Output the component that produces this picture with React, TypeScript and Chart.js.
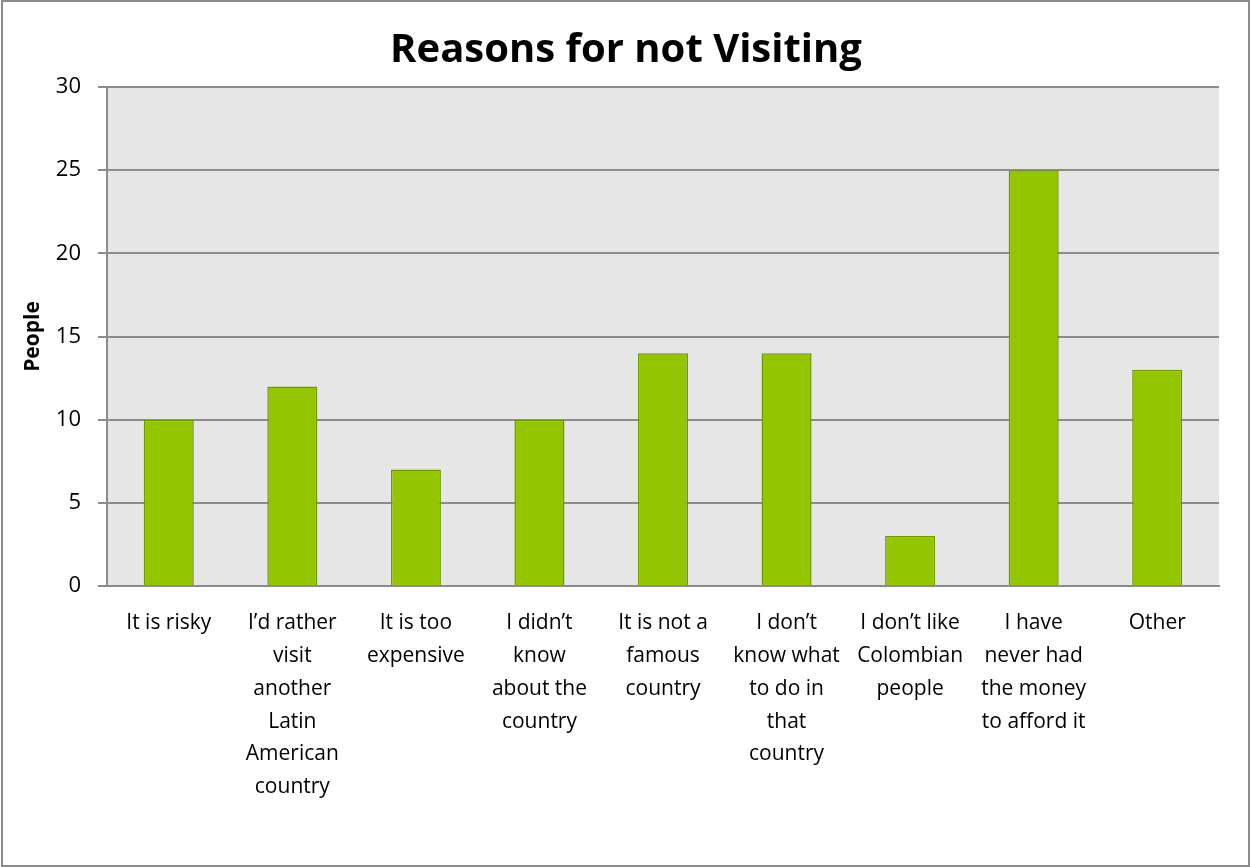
import React, { useEffect, useRef } from "react";
import { Chart, registerables } from "chart.js";

Chart.register(...registerables);

const categories: (string | string[])[] = [
  "It is risky",
  ["I\u2019d rather", "visit", "another", "Latin", "American", "country"],
  ["It is too", "expensive"],
  ["I didn\u2019t", "know", "about the", "country"],
  ["It is not a", "famous", "country"],
  ["I don\u2019t", "know what", "to do in", "that", "country"],
  ["I don\u2019t like", "Colombian", "people"],
  ["I have", "never had", "the money", "to afford it"],
  "Other",
];
const peopleValues: number[] = [10, 12, 7, 10, 14, 14, 3, 25, 13];
const chartTitle = "Reasons for not Visiting";
const yAxisTitle = "People";
const yMin = 0;
const yMax = 30;
const yStep = 5;

const FONT = "'Open Sans', Lato, sans-serif";

const decorPlugin = {
  id: "decor",
  beforeDraw(chart: any) {
    const { ctx, chartArea, width, height } = chart;
    ctx.save();
    ctx.fillStyle = "#ffffff";
    ctx.fillRect(0, 0, width, height);
    ctx.fillStyle = "#e6e6e6";
    ctx.fillRect(
      chartArea.left,
      chartArea.top,
      chartArea.right - chartArea.left,
      chartArea.bottom - chartArea.top
    );
    ctx.restore();
  },
  afterDraw(chart: any) {
    const { ctx, width } = chart;
    ctx.save();
    ctx.fillStyle = "#000000";
    ctx.font = `bold 40px ${FONT}`;
    ctx.textAlign = "center";
    ctx.textBaseline = "alphabetic";
    ctx.fillText(chartTitle, width / 2 + 1, 62);
    ctx.strokeStyle = "#8c8c8c";
    ctx.lineWidth = 2;
    ctx.strokeRect(2, 1, 1247, 865);
    ctx.restore();
  },
};

export default function App() {
  const canvasRef = useRef<HTMLCanvasElement | null>(null);

  useEffect(() => {
    document.body.style.margin = "0";
    const canvas = canvasRef.current;
    if (!canvas) return;
    const chart = new Chart(canvas, {
      type: "bar",
      data: {
        labels: categories,
        datasets: [
          {
            label: yAxisTitle,
            data: peopleValues,
            backgroundColor: "#93c500",
            borderColor: "#6e9a00",
            borderWidth: 1.5,
            categoryPercentage: 1,
            barPercentage: 0.405,
          },
        ],
      },
      options: {
        responsive: false,
        animation: false,
        layout: { padding: { top: 87, right: 31, bottom: 0, left: 0 } },
        plugins: {
          legend: { display: false },
          title: { display: false },
          tooltip: { enabled: false },
        },
        scales: {
          x: {
            afterFit: (s: any) => {
              s.height = 281;
            },
            grid: { display: false },
            border: { display: true, color: "#8c8c8c", width: 2 },
            ticks: {
              autoSkip: false,
              maxRotation: 0,
              minRotation: 0,
              padding: 13,
              color: "#000000",
              font: { family: FONT, size: 21, lineHeight: 1.56 },
            },
          },
          y: {
            min: yMin,
            max: yMax,
            afterFit: (s: any) => {
              s.width = 107;
            },
            grid: {
              color: "#8c8c8c",
              lineWidth: 2,
              tickLength: 9,
              drawTicks: true,
            },
            border: { display: true, color: "#8c8c8c", width: 2 },
            ticks: {
              stepSize: yStep,
              padding: 17,
              color: "#000000",
              font: { family: FONT, size: 22 },
            },
            title: {
              display: true,
              text: yAxisTitle,
              color: "#000000",
              font: { family: FONT, size: 21, weight: "bold" },
              padding: { top: 20, bottom: 0 },
            },
          },
        },
      },
      plugins: [decorPlugin],
    });
    return () => chart.destroy();
  }, []);

  return (
    <div style={{ position: "absolute", left: 0, top: 0, width: 1250, height: 867 }}>
      <canvas ref={canvasRef} width={1250} height={867} />
    </div>
  );
}
